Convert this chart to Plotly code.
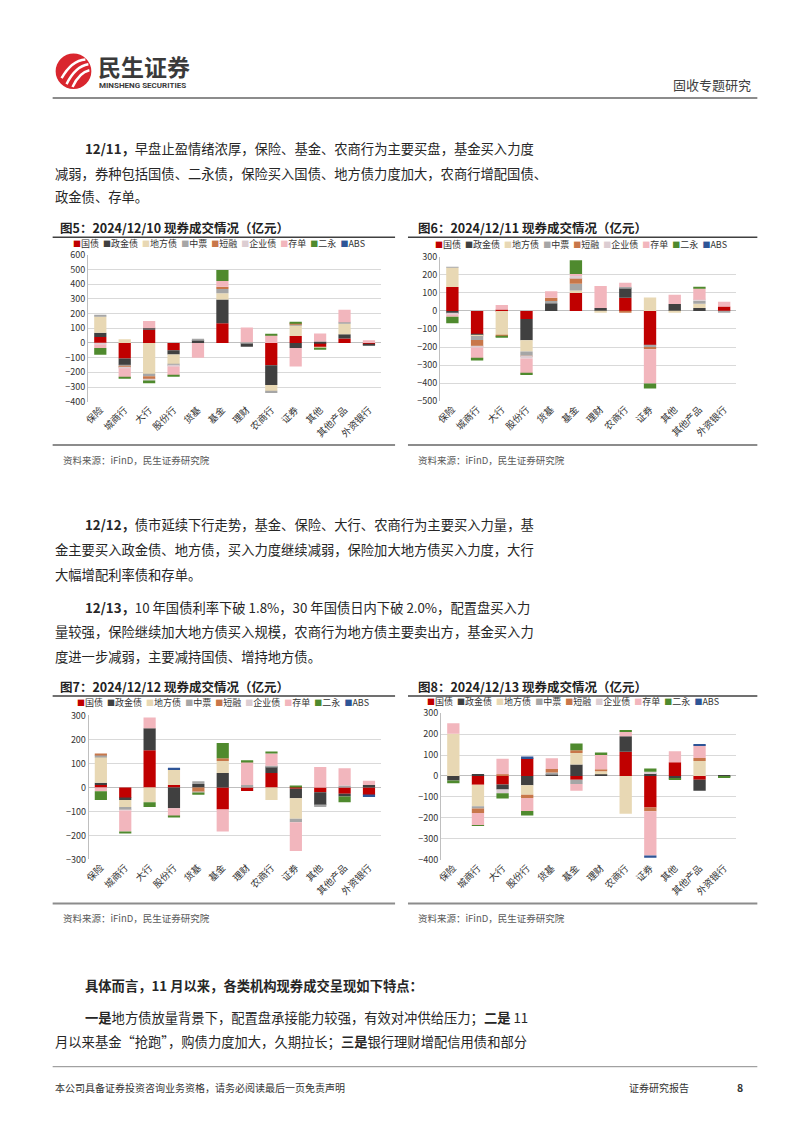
import plotly.graph_objects as go

W, H = 802, 1133
def px(x): return x / W
def py(y): return 1 - y / H

FONT = "Noto Sans CJK SC, Noto Sans, sans-serif"

categories = ["保险", "城商行", "大行", "股份行", "货基", "基金", "理财", "农商行", "证券", "其他", "其他产品", "外资银行"]
series_names = ["国债", "政金债", "地方债", "中票", "短融", "企业债", "存单", "二永", "ABS"]
series_colors = ["#C00000", "#404040", "#E8D8B4", "#A6A6A6", "#C8774A", "#DCCDD2", "#F2B6BD", "#4F8A2E", "#2E5597"]

# 2024/12/10
d10_gz = [40, -105, 90, -50, 0, 135, 0, -152, 48, -30, 30, -8]
d10_zj = [30, -45, 10, -28, 20, 160, -25, -134, -35, 10, 30, -5]
d10_df = [110, 25, -215, -65, 0, 43, 0, -41, 75, -5, 72, 0]
d10_zp = [5, -8, -12, -12, 5, 29, 5, -13, 5, 0, 9, 0]
d10_dr = [0, -10, -18, 0, 0, 15, 0, 0, 8, 0, 0, 0]
d10_qy = [-10, -5, -10, -5, 0, 0, 0, 0, 0, 0, 0, 0]
d10_cd = [-25, -60, 50, -60, -100, 40, 100, 55, -125, 55, 85, 18]
d10_ey = [-45, -10, -20, -8, 0, 75, 0, 4, 8, -5, 0, 0]
d10_abs = [0, 0, 0, 0, 0, 0, 0, 0, 0, 0, 0, 0]

# 2024/12/11
d11_gz = [133, -131, 8, -45, 0, 100, 0, 73, -190, 0, 0, 24]
d11_zj = [-15, -3, 0, -117, 42, 0, 16, 55, 0, 38, 16, 0]
d11_df = [107, -5, -133, -63, 0, 13, -8, 0, 75, -6, 24, 0]
d11_zp = [2, -22, 0, -24, 13, 37, 0, 5, -10, 0, 17, -5]
d11_dr = [0, -37, -7, -5, 18, 33, 0, -6, -12, 0, 0, 0]
d11_qy = [-5, -5, 0, -10, 0, 10, 0, 0, 0, 0, 5, 0]
d11_cd = [-12, -62, 25, -83, 36, 12, 122, 23, -190, 52, 62, 27]
d11_ey = [-37, -10, -6, -8, 0, 76, 0, 0, -28, 0, 8, 0]
d11_abs = [0, 0, 0, 0, 0, 0, 0, 0, 0, 0, 0, 0]

# 2024/12/12
d12_gz = [10, -44, 155, 10, 0, -92, -15, 60, -5, -20, -26, -32]
d12_zj = [10, -8, 92, -87, 14, 60, 0, 27, -40, -54, -12, 10]
d12_df = [108, -30, -62, 63, 0, 50, 0, -52, -85, 0, 0, 0]
d12_zp = [8, -12, 0, 0, 12, 0, 10, 3, -15, -8, 8, 0]
d12_dr = [3, 0, 0, 0, -20, 12, 0, 0, 0, 0, 0, 0]
d12_qy = [0, -2, 0, 0, -5, 0, 0, 0, 0, 0, 0, 0]
d12_cd = [-16, -88, 45, -32, 0, -92, 98, 52, -120, 85, 72, 18]
d12_ey = [-36, -4, -20, -4, -5, 63, 5, 4, 8, 0, -24, 0]
d12_abs = [0, 0, 0, 9, 0, 0, 0, 0, 0, 0, 0, -8]

# 2024/12/13
d13_gz = [0, -42, -41, 85, 0, -18, 0, 115, -150, 66, -18, 0]
d13_zj = [-22, 8, -24, -44, 6, 55, 8, 75, 12, -12, -52, -5]
d13_df = [201, -103, 0, -46, 0, 55, 14, -180, 0, 0, 72, 0]
d13_zp = [0, -10, 0, 0, 10, -20, 0, 0, 0, 0, 0, 0]
d13_dr = [0, -22, 8, -15, 17, 13, 10, 0, -18, 0, 14, 0]
d13_qy = [0, 0, -18, 0, 0, 0, 0, 0, 8, 0, 0, 0]
d13_cd = [51, -58, 74, -62, 52, -32, 68, 20, -212, 52, 60, 0]
d13_ey = [-13, -4, -25, -22, 0, 32, 12, 5, 16, -6, 0, -4]
d13_abs = [0, 0, 0, 8, 0, 0, 0, 0, -10, 0, 7, 0]

charts = [
    dict(data=[d10_gz, d10_zj, d10_df, d10_zp, d10_dr, d10_qy, d10_cd, d10_ey, d10_abs],
         title="图5：2024/12/10 现券成交情况（亿元）", yr=(-400, 600),
         x0=82.7, x1=378, ytop=250.7, ybot=399.3, leg=(65, 239.5), tx=52, ty=223,
         line=(47, 392), uy=233, by=443, sy=458),
    dict(data=[d11_gz, d11_zj, d11_df, d11_zp, d11_dr, d11_qy, d11_cd, d11_ey, d11_abs],
         title="图6：2024/12/11 现券成交情况（亿元）", yr=(-500, 300),
         x0=437.3, x1=736, ytop=252.7, ybot=398.7, leg=(430, 240), tx=413, ty=223,
         line=(405, 757), uy=233, by=443, sy=458),
    dict(data=[d12_gz, d12_zj, d12_df, d12_zp, d12_dr, d12_qy, d12_cd, d12_ey, d12_abs],
         title="图7：2024/12/12 现券成交情况（亿元）", yr=(-300, 300),
         x0=83.3, x1=378, ytop=716.7, ybot=862.3, leg=(70, 704), tx=52, ty=687,
         line=(47, 392), uy=697, by=907, sy=922),
    dict(data=[d13_gz, d13_zj, d13_df, d13_zp, d13_dr, d13_qy, d13_cd, d13_ey, d13_abs],
         title="图8：2024/12/13 现券成交情况（亿元）", yr=(-400, 300),
         x0=438.3, x1=736, ytop=714.3, ybot=862.7, leg=(422, 702.5), tx=413, ty=687,
         line=(405, 757), uy=697, by=907, sy=922),
]

fig = go.Figure()
annotations = []
shapes = []
layout_axes = {}

for i, c in enumerate(charts, start=1):
    xa = "x" if i == 1 else f"x{i}"
    ya = "y" if i == 1 else f"y{i}"
    for name, color, vals in zip(series_names, series_colors, c["data"]):
        fig.add_trace(go.Bar(x=categories, y=vals, name=name, marker=dict(color=color, line=dict(width=0)),
                             xaxis=xa, yaxis=ya, showlegend=False))
    xk = "xaxis" if i == 1 else f"xaxis{i}"
    yk = "yaxis" if i == 1 else f"yaxis{i}"
    layout_axes[xk] = dict(domain=[px(c["x0"]), px(c["x1"])], anchor=ya, tickangle=-45,
                           tickfont=dict(family=FONT, size=9.5, color="#333333"),
                           showgrid=False, showline=False, ticks="", ticklen=0)
    layout_axes[yk] = dict(domain=[py(c["ybot"]), py(c["ytop"])], anchor=xa, range=list(c["yr"]),
                           dtick=100, tickfont=dict(family=FONT, size=9, color="#333333"),
                           showgrid=True, gridcolor="#D9D9D9", gridwidth=1,
                           zeroline=True, zerolinecolor="#BFBFBF", zerolinewidth=1,
                           showline=True, linecolor="#BFBFBF", linewidth=1, ticks="")
    annotations.append(dict(x=px(c["tx"]), y=py(c["ty"]), xref="paper", yref="paper", xanchor="left",
                            yanchor="middle", showarrow=False, text="<b>" + c["title"] + "</b>",
                            font=dict(family=FONT, size=12.5, color="#222222")))
    parts = []
    for name, color in zip(series_names, series_colors):
        parts.append(f"<span style='color:{color};font-size:8px'>■</span>{name}")
    annotations.append(dict(x=px(c["leg"][0]), y=py(c["leg"][1]), xref="paper", yref="paper", xanchor="left",
                            yanchor="middle", showarrow=False, text="  ".join(parts),
                            font=dict(family=FONT, size=9, color="#333333")))
    annotations.append(dict(x=px(c["line"][0] + 8), y=py(c["sy"]), xref="paper", yref="paper", xanchor="left",
                            yanchor="middle", showarrow=False, text="资料来源：iFinD，民生证券研究院",
                            font=dict(family=FONT, size=9.5, color="#595959")))
    shapes.append(dict(type="line", xref="paper", yref="paper", x0=px(c["line"][0]), x1=px(c["line"][1]),
                       y0=py(c["uy"]), y1=py(c["uy"]), line=dict(color="#404040", width=1.5)))
    shapes.append(dict(type="line", xref="paper", yref="paper", x0=px(c["line"][0]), x1=px(c["line"][1]),
                       y0=py(c["by"]), y1=py(c["by"]), line=dict(color="#8C8C8C", width=2)))

TS = 13.3
body_lines = [
    (78, 143, "<b>12/11，</b>早盘止盈情绪浓厚，保险、基金、农商行为主要买盘，基金买入力度"),
    (47, 168, "减弱，券种包括国债、二永债，保险买入国债、地方债力度加大，农商行增配国债、"),
    (47, 192, "政金债、存单。"),
    (78, 524, "<b>12/12，</b>债市延续下行走势，基金、保险、大行、农商行为主要买入力量，基"),
    (47, 549, "金主要买入政金债、地方债，买入力度继续减弱，保险加大地方债买入力度，大行"),
    (47, 574, "大幅增配利率债和存单。"),
    (78, 607, "<b>12/13，</b>10 年国债利率下破 1.8%，30 年国债日内下破 2.0%，配置盘买入力"),
    (47, 632, "量较强，保险继续加大地方债买入规模，农商行为地方债主要卖出方，基金买入力"),
    (47, 657, "度进一步减弱，主要减持国债、增持地方债。"),
    (78, 990, "<b>具体而言，11 月以来，各类机构现券成交呈现如下特点：</b>"),
    (78, 1022, "<b>一是</b>地方债放量背景下，配置盘承接能力较强，有效对冲供给压力；<b>二是</b> 11"),
    (47, 1047, "月以来基金“抢跑”，购债力度加大，久期拉长；<b>三是</b>银行理财增配信用债和部分"),
]
for x, y, t in body_lines:
    annotations.append(dict(x=px(x), y=py(y), xref="paper", yref="paper", xanchor="left", yanchor="middle",
                            showarrow=False, text=t, font=dict(family=FONT, size=TS, color="#262626")))

annotations += [
    dict(x=px(91), y=py(60), xref="paper", yref="paper", xanchor="left", yanchor="middle", showarrow=False,
         text="<b>民生证券</b>", font=dict(family=FONT, size=23, color="#3A3A3A")),
    dict(x=px(92), y=py(79), xref="paper", yref="paper", xanchor="left", yanchor="middle", showarrow=False,
         text="<b>MINSHENG SECURITIES</b>", font=dict(family="Roboto, sans-serif", size=8, color="#3A3A3A")),
    dict(x=px(753), y=py(78), xref="paper", yref="paper", xanchor="right", yanchor="middle", showarrow=False,
         text="固收专题研究", font=dict(family=FONT, size=13, color="#404040")),
    dict(x=px(47), y=py(1093), xref="paper", yref="paper", xanchor="left", yanchor="middle", showarrow=False,
         text="本公司具备证券投资咨询业务资格，请务必阅读最后一页免责声明", font=dict(family=FONT, size=10, color="#333333")),
    dict(x=px(626), y=py(1093), xref="paper", yref="paper", xanchor="left", yanchor="middle", showarrow=False,
         text="证券研究报告", font=dict(family=FONT, size=10, color="#333333")),
    dict(x=px(745), y=py(1093), xref="paper", yref="paper", xanchor="right", yanchor="middle", showarrow=False,
         text="<b>8</b>", font=dict(family=FONT, size=10.5, color="#333333")),
]

shapes += [
    dict(type="line", xref="paper", yref="paper", x0=px(47), x1=px(757), y0=py(92), y1=py(92),
         line=dict(color="#8C8C8C", width=2)),
    dict(type="line", xref="paper", yref="paper", x0=px(47), x1=px(757), y0=py(1072), y1=py(1072),
         line=dict(color="#8C8C8C", width=1)),
    dict(type="circle", xref="paper", yref="paper", x0=px(50), x1=px(86), y0=py(83), y1=py(47),
         fillcolor="#D9262E", line=dict(width=0)),
]
for (ax, ay, bx, by_, cx, cy) in [(56, 72, 66, 54, 80, 53), (61, 78, 70, 60, 83, 58), (67, 81, 74, 66, 84, 64)]:
    shapes.append(dict(type="path", xref="paper", yref="paper",
                       path=f"M {px(ax)} {py(ay)} Q {px(bx)} {py(by_)} {px(cx)} {py(cy)}",
                       line=dict(color="white", width=2.5)))

fig.update_layout(
    width=W, height=H, margin=dict(l=0, r=0, t=0, b=0),
    paper_bgcolor="white", plot_bgcolor="white",
    barmode="relative", bargap=0.5, showlegend=False,
    font=dict(family=FONT, color="#333333"),
    annotations=annotations, shapes=shapes, **layout_axes,
)

fig.write_html("out.html", config={"displayModeBar": False},
               post_script="document.body.style.margin='0';document.body.style.overflow='hidden';")
